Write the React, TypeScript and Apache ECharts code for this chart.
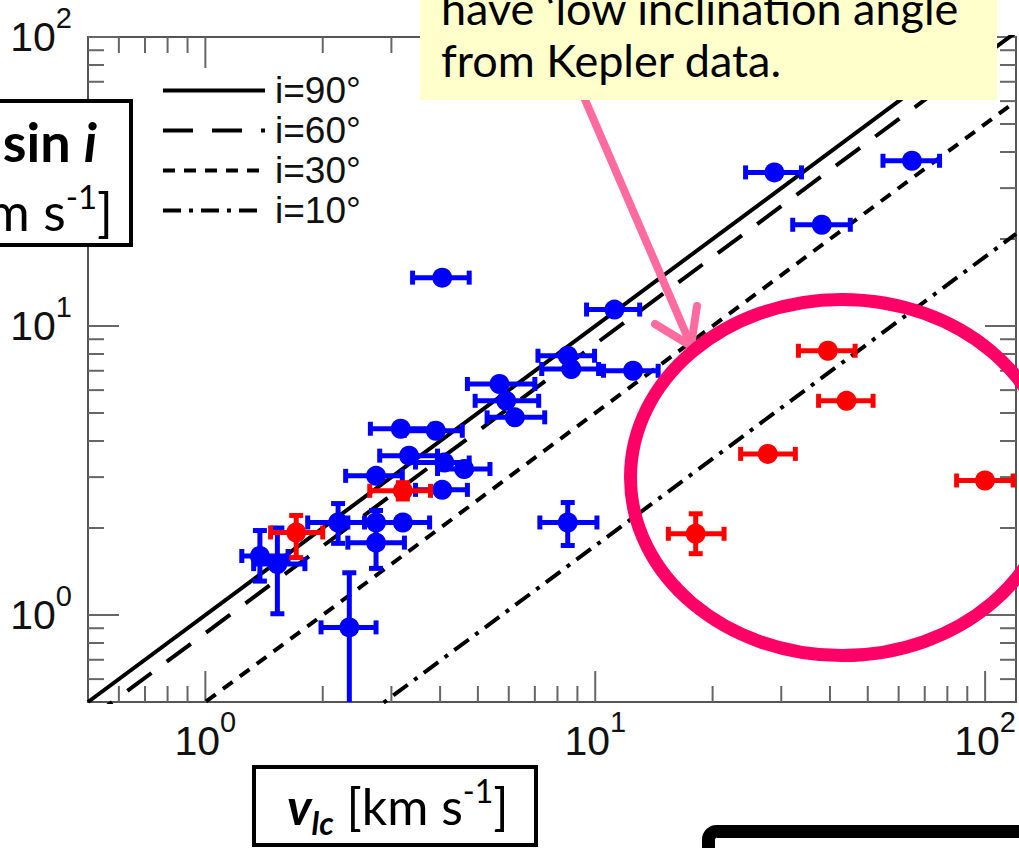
import React, { useEffect, useRef } from 'react';
import * as echarts from 'echarts';

// ---- axis ranges ----
const X_MIN = 0.5;
const X_MAX = 120;
const Y_MIN = 0.5;
const Y_MAX = 100;

// ---- tick positions ----
const X_MAJOR_TICKS = [1, 10, 100];
const X_MINOR_TICKS = [0.6, 0.7, 0.8, 0.9, 2, 3, 4, 5, 6, 7, 8, 9, 20, 30, 40, 50, 60, 70, 80, 90];
const Y_MAJOR_TICKS = [1, 10, 100];
const Y_MINOR_TICKS = [0.6, 0.7, 0.8, 0.9, 2, 3, 4, 5, 6, 7, 8, 9, 20, 30, 40, 50, 60, 70, 80, 90];

// ---- inclination lines (v sin i = v_lc * sin i) endpoints ----
const LINE_NAMES = ['i=90°', 'i=60°', 'i=30°', 'i=10°'];
const LINE_I90 = [[0.5, 0.5], [120, 120]];
const LINE_I60 = [[0.5, 0.433], [120, 103.9]];
const LINE_I30 = [[0.5, 0.25], [120, 60]];
const LINE_I10 = [[0.5, 0.0868], [120, 20.84]];

// ---- blue stars: v_lc, v sin i, x error low/high, y error low/high (0 = none) ----
const BLUE_X = [28.8, 64.9, 38.1, 4.05, 11.2, 8.5, 8.68, 12.5, 5.68, 5.91, 6.22, 3.17, 3.9, 3.33, 4.1, 4.61, 2.74, 4.05, 2.19, 2.74, 3.21, 2.74, 8.5, 2.34, 1.38, 1.53];
const BLUE_Y = [34.0, 37.3, 22.4, 14.7, 11.4, 7.89, 7.1, 7.0, 6.3, 5.51, 4.83, 4.41, 4.34, 3.56, 3.37, 3.2, 3.03, 2.71, 2.09, 2.09, 2.09, 1.78, 2.09, 0.906, 1.6, 1.5];
const BLUE_XLO = [24.3, 54.7, 32.1, 3.4, 9.5, 7.13, 7.29, 10.5, 4.7, 4.92, 5.28, 2.65, 3.24, 2.8, 3.46, 3.94, 2.29, 3.46, 1.83, 2.32, 2.74, 2.32, 7.21, 1.98, 1.24, 1.33];
const BLUE_XHI = [33.8, 76.4, 45.1, 4.75, 13.0, 9.96, 10.2, 14.5, 7.0, 7.16, 7.42, 3.82, 4.56, 3.94, 4.75, 5.37, 3.2, 4.7, 2.56, 3.24, 3.76, 3.24, 10.1, 2.74, 1.63, 1.8];
const BLUE_YLO = [0, 0, 0, 0, 0, 0, 0, 0, 0, 0, 0, 0, 0, 0, 0, 0, 0, 0, 1.77, 0, 0, 1.45, 1.74, 0.4, 1.31, 1.01];
const BLUE_YHI = [0, 0, 0, 0, 0, 0, 0, 0, 0, 0, 0, 0, 0, 0, 0, 0, 0, 0, 2.43, 0, 0, 2.3, 2.45, 1.4, 1.96, 2.0];

// ---- red stars ----
const RED_X = [39.5, 44.1, 27.7, 99.9, 18.1, 3.21, 1.71];
const RED_Y = [8.21, 5.51, 3.61, 2.92, 1.91, 2.69, 1.93];
const RED_XLO = [33.2, 37.4, 23.6, 84.5, 15.4, 2.64, 1.47];
const RED_XHI = [46.4, 51.6, 32.6, 118, 21.4, 3.78, 2.0];
const RED_YLO = [0, 0, 0, 0, 1.63, 2.52, 1.58];
const RED_YHI = [0, 0, 0, 0, 2.24, 2.87, 2.21];

// ---- annotation texts ----
const NOTE_LINES = ['have \u2018low inclination angle', 'from Kepler data.'];

const BLUE = '#0000FF';
const RED = '#FF0000';
const TICK_COLOR = '#666';
const SANS = '"Liberation Sans", Arial, Helvetica, sans-serif';
const CAL = 'Lato, "Open Sans", sans-serif';

function zipErr(x: number[], y: number[], xlo: number[], xhi: number[], ylo: number[], yhi: number[]) {
  return x.map((v, i) => [v, y[i], xlo[i], xhi[i], ylo[i], yhi[i]]);
}

function makeErrRender(color: string) {
  return (params: any, api: any) => {
    const x = api.value(0), y = api.value(1);
    const xlo = api.value(2), xhi = api.value(3), ylo = api.value(4), yhi = api.value(5);
    const c = api.coord([x, y]);
    const st = { stroke: color, lineWidth: 5 };
    const cap = 7;
    const children: any[] = [];
    const pl = api.coord([xlo, y]);
    const ph = api.coord([xhi, y]);
    children.push({ type: 'line', shape: { x1: pl[0], y1: c[1], x2: ph[0], y2: c[1] }, style: st });
    children.push({ type: 'line', shape: { x1: pl[0], y1: c[1] - cap, x2: pl[0], y2: c[1] + cap }, style: st });
    children.push({ type: 'line', shape: { x1: ph[0], y1: c[1] - cap, x2: ph[0], y2: c[1] + cap }, style: st });
    if (ylo > 0 && yhi > 0) {
      const ql = api.coord([x, ylo]);
      const qh = api.coord([x, yhi]);
      children.push({ type: 'line', shape: { x1: c[0], y1: ql[1], x2: c[0], y2: qh[1] }, style: st });
      children.push({ type: 'line', shape: { x1: c[0] - cap, y1: ql[1], x2: c[0] + cap, y2: ql[1] }, style: st });
      children.push({ type: 'line', shape: { x1: c[0] - cap, y1: qh[1], x2: c[0] + cap, y2: qh[1] }, style: st });
    }
    children.push({ type: 'circle', shape: { cx: c[0], cy: c[1], r: 10 }, style: { fill: color } });
    return { type: 'group', children };
  };
}

function renderXTick(params: any, api: any) {
  const v = api.value(0);
  const len = api.value(2) === 1 ? 31 : 16;
  const b = api.coord([v, Y_MIN]);
  const t = api.coord([v, Y_MAX]);
  const st = { stroke: TICK_COLOR, lineWidth: 2 };
  return {
    type: 'group',
    children: [
      { type: 'line', shape: { x1: b[0], y1: b[1], x2: b[0], y2: b[1] - len }, style: st },
      { type: 'line', shape: { x1: t[0], y1: t[1], x2: t[0], y2: t[1] + len }, style: st },
    ],
  };
}

function renderYTick(params: any, api: any) {
  const v = api.value(1);
  const len = api.value(2) === 1 ? 31 : 16;
  const l = api.coord([X_MIN, v]);
  const r = api.coord([X_MAX, v]);
  const st = { stroke: TICK_COLOR, lineWidth: 2 };
  return {
    type: 'group',
    children: [
      { type: 'line', shape: { x1: l[0], y1: l[1], x2: l[0] + len, y2: l[1] }, style: st },
      { type: 'line', shape: { x1: r[0], y1: r[1], x2: r[0] - len, y2: r[1] }, style: st },
    ],
  };
}

function powLabel(value: number) {
  const e = Math.log10(value);
  const n = Math.round(e);
  if (Math.abs(e - n) > 1e-6) return '';
  return '{b|10}{s|' + n + '}';
}

const labelRich = {
  b: { fontFamily: SANS, fontSize: 41, lineHeight: 68, color: '#111' },
  s: { fontFamily: SANS, fontSize: 29, lineHeight: 30, verticalAlign: 'top', color: '#111' },
};

const lineStyles: any[] = [
  { color: '#000', width: 4, type: 'solid' },
  { color: '#000', width: 4, type: [30, 19] },
  { color: '#000', width: 4, type: [12, 9] },
  { color: '#000', width: 4, type: [18, 8, 4, 8] },
];
const lineData = [LINE_I90, LINE_I60, LINE_I30, LINE_I10];

const option: any = {
  animation: false,
  backgroundColor: '#fff',
  grid: { left: 88, top: 37, right: -3, bottom: 146, show: true, borderColor: '#555', borderWidth: 2, backgroundColor: 'transparent' },
  xAxis: {
    type: 'log', logBase: 10, min: X_MIN, max: X_MAX,
    axisLine: { show: false }, axisTick: { show: false }, splitLine: { show: false },
    axisLabel: { margin: 5, formatter: powLabel, rich: labelRich },
  },
  yAxis: {
    type: 'log', logBase: 10, min: Y_MIN, max: Y_MAX,
    axisLine: { show: false }, axisTick: { show: false }, splitLine: { show: false },
    axisLabel: { margin: 16, formatter: powLabel, rich: labelRich },
  },
  legend: {
    orient: 'vertical', left: 156, top: 67, itemWidth: 102, itemHeight: 30, itemGap: 3,
    selectedMode: false, data: LINE_NAMES,
    itemStyle: { opacity: 0 },
    lineStyle: { width: 4 },
    textStyle: { fontFamily: SANS, fontSize: 37, color: '#111', padding: [0, 0, 0, 5] },
  },
  series: [
    ...LINE_NAMES.map((name, k) => ({
      name, type: 'line', data: lineData[k], symbol: 'none', showSymbol: false,
      lineStyle: lineStyles[k], itemStyle: { color: '#000' }, z: 3, clip: true,
    })),
    {
      type: 'custom', name: 'xticks', renderItem: renderXTick, clip: false, z: 2,
      data: [...X_MAJOR_TICKS.map((v) => [v, 1, 1]), ...X_MINOR_TICKS.map((v) => [v, 1, 0])],
      encode: { x: 0, y: 1 },
    },
    {
      type: 'custom', name: 'yticks', renderItem: renderYTick, clip: false, z: 2,
      data: [...Y_MAJOR_TICKS.map((v) => [1, v, 1]), ...Y_MINOR_TICKS.map((v) => [1, v, 0])],
      encode: { x: 0, y: 1 },
    },
    {
      type: 'custom', name: 'blue', renderItem: makeErrRender(BLUE), clip: true, z: 4,
      data: zipErr(BLUE_X, BLUE_Y, BLUE_XLO, BLUE_XHI, BLUE_YLO, BLUE_YHI),
      encode: { x: 0, y: 1 },
    },
    {
      type: 'custom', name: 'red', renderItem: makeErrRender(RED), clip: true, z: 5,
      data: zipErr(RED_X, RED_Y, RED_XLO, RED_XHI, RED_YLO, RED_YHI),
      encode: { x: 0, y: 1 },
    },
  ],
  graphic: [
    // pink arrow
    { type: 'line', z: 100, shape: { x1: 583, y1: 95, x2: 690, y2: 343 }, style: { stroke: '#FF6B9E', lineWidth: 8, lineCap: 'round' } },
    { type: 'polyline', z: 100, shape: { points: [[655, 324], [691, 346], [697, 306]] }, style: { stroke: '#FF6B9E', lineWidth: 8, lineCap: 'round', lineJoin: 'round', fill: null } },
    // magenta ellipse
    { type: 'ellipse', z: 100, shape: { cx: 842, cy: 477.5, rx: 211.5, ry: 178 }, style: { fill: null, stroke: '#FF0066', lineWidth: 13 } },
    // yellow note
    { type: 'rect', z: 110, shape: { x: 420, y: -10, width: 577, height: 110 }, style: { fill: '#FFFFCC' } },
    { type: 'text', z: 111, x: 441, y: 8, style: { text: NOTE_LINES[0], fontFamily: CAL, fontSize: 45, fill: '#000', align: 'left', verticalAlign: 'middle' } },
    { type: 'text', z: 111, x: 441, y: 60, style: { text: NOTE_LINES[1], fontFamily: CAL, fontSize: 45, fill: '#000', align: 'left', verticalAlign: 'middle' } },
    // y-axis title box
    { type: 'rect', z: 110, shape: { x: -10, y: 101, width: 141, height: 144 }, style: { fill: '#fff', stroke: '#000', lineWidth: 4 } },
    {
      type: 'text', z: 111, x: 97, y: 141,
      style: {
        text: '{vb|v}{sb| sin }{ib|i}', align: 'right', verticalAlign: 'middle',
        rich: {
          vb: { fontFamily: CAL, fontSize: 54, fontWeight: 'bold', fontStyle: 'italic', fill: '#000' },
          sb: { fontFamily: CAL, fontSize: 54, fontWeight: 'bold', fill: '#000' },
          ib: { fontFamily: CAL, fontSize: 54, fontWeight: 'bold', fontStyle: 'italic', fill: '#000' },
        },
      },
    },
    {
      type: 'text', z: 111, x: 113, y: 211,
      style: {
        text: '{n|[km s}{sup|-1}{n|]}', align: 'right', verticalAlign: 'middle',
        rich: {
          n: { fontFamily: CAL, fontSize: 52, lineHeight: 64, fill: '#000' },
          sup: { fontFamily: CAL, fontSize: 33, lineHeight: 32, verticalAlign: 'top', fill: '#000' },
        },
      },
    },
    // x-axis title box
    { type: 'rect', z: 110, shape: { x: 254, y: 767, width: 282, height: 78 }, style: { fill: '#fff', stroke: '#000', lineWidth: 4 } },
    {
      type: 'text', z: 111, x: 287, y: 806,
      style: {
        text: '{v|v}{sub|lc}{n| [km s}{sup|-1}{n|]}', align: 'left', verticalAlign: 'middle',
        rich: {
          v: { fontFamily: CAL, fontSize: 50, lineHeight: 64, fontWeight: 'bold', fontStyle: 'italic', fill: '#000' },
          sub: { fontFamily: CAL, fontSize: 32, lineHeight: 32, verticalAlign: 'bottom', fontWeight: 'bold', fontStyle: 'italic', fill: '#000' },
          n: { fontFamily: CAL, fontSize: 50, lineHeight: 64, fill: '#000' },
          sup: { fontFamily: CAL, fontSize: 32, lineHeight: 32, verticalAlign: 'top', fill: '#000' },
        },
      },
    },
    // bottom-right box
    { type: 'rect', z: 110, shape: { x: 708.5, y: 831.5, width: 400, height: 100, r: 8 }, style: { fill: '#fff', stroke: '#000', lineWidth: 13 } },
  ],
};

export default function App() {
  const ref = useRef<HTMLDivElement>(null);
  useEffect(() => {
    if (!ref.current) return;
    const chart = echarts.init(ref.current, null, { renderer: 'svg' });
    chart.setOption(option);
    return () => chart.dispose();
  }, []);
  return (
    <div
      ref={ref}
      style={{ position: 'fixed', left: 0, top: 0, width: 1019, height: 848, background: '#fff' }}
    />
  );
}
